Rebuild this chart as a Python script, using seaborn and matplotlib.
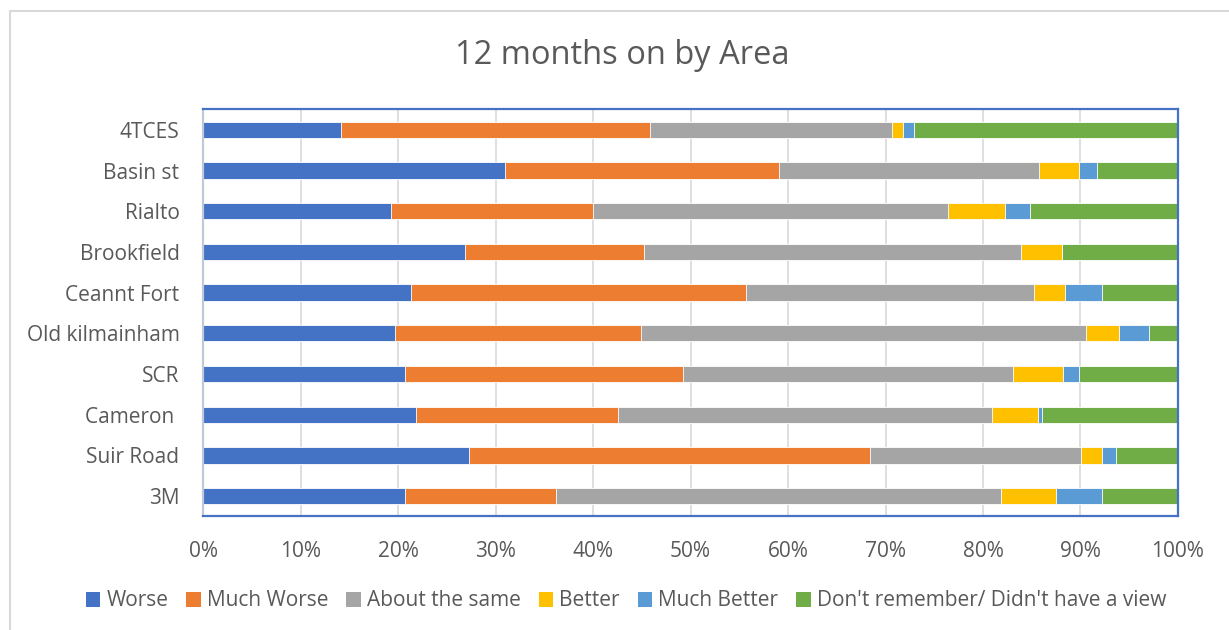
import numpy as np
import pandas as pd
import seaborn as sns
import matplotlib.pyplot as plt
from matplotlib.patches import Patch, Rectangle

# data (percent of respondents per area)
areas = ['4TCES', 'Basin st', 'Rialto', 'Brookfield', 'Ceannt Fort',
         'Old kilmainham', 'SCR', 'Cameron ', 'Suir Road', '3M']
categories = ['Worse', 'Much Worse', 'About the same', 'Better',
              'Much Better', "Don't remember/ Didn't have a view"]
worse = [14.2, 31.0, 19.3, 26.9, 21.3, 19.7, 20.7, 21.8, 27.3, 20.7]
much_worse = [31.6, 28.1, 20.7, 18.3, 34.4, 25.2, 28.5, 20.8, 41.1, 15.5]
same = [24.9, 26.6, 36.4, 38.7, 29.5, 45.7, 33.9, 38.3, 21.7, 45.6]
better = [1.1, 4.1, 5.9, 4.2, 3.2, 3.4, 5.1, 4.7, 2.1, 5.7]
much_better = [1.1, 1.9, 2.5, 0.0, 3.8, 3.0, 1.6, 0.4, 1.4, 4.7]
no_view = [27.1, 8.3, 15.2, 11.9, 7.8, 3.0, 10.2, 14.0, 6.4, 7.8]

colors = ['#4472C4', '#ED7D31', '#A5A5A5', '#FFC000', '#5B9BD5', '#70AD47']
txt = '#595959'

df = pd.DataFrame({'area': areas, 'Worse': worse, 'Much Worse': much_worse,
                   'About the same': same, 'Better': better,
                   'Much Better': much_better,
                   "Don't remember/ Didn't have a view": no_view})
vals = df[categories]
vals = vals.div(vals.sum(axis=1), axis=0) * 100
cum = vals.cumsum(axis=1)
cum['area'] = df['area']

sns.set_style('white')
plt.rcParams['font.family'] = ['Open Sans', 'DejaVu Sans']

fig = plt.figure(figsize=(12.29, 6.30), dpi=100)
ax = fig.add_axes([0.1652, 0.1802, 0.7933, 0.646])

# stacked bars: draw cumulative totals from the last series back to the first
for cat, col in reversed(list(zip(categories, colors))):
    sns.barplot(data=cum, x=cat, y='area', orient='h', color=col, width=0.4,
                edgecolor='white', linewidth=0.6, saturation=1, ax=ax)

ax.set_xlim(0, 100)
ax.set_ylim(9.5, -0.5)
ax.set_xticks(np.arange(0, 101, 10))
ax.set_xticklabels([f'{v}%' for v in range(0, 101, 10)])
ax.xaxis.grid(True, color='#D9D9D9', linewidth=1.2)
ax.set_axisbelow(True)
ax.set_xlabel('')
ax.set_ylabel('')
ax.tick_params(axis='both', length=0, labelsize=15, labelcolor=txt)
ax.tick_params(axis='x', pad=18)
ax.tick_params(axis='y', pad=17)
for s in ['top', 'right', 'bottom']:
    ax.spines[s].set_color('#4472C4')
    ax.spines[s].set_linewidth(1.6)
ax.spines['left'].set_color('#BFC9DA')
ax.spines['left'].set_linewidth(1.6)

fig.text(622 / 1229, 1 - 56 / 630, '12 months on by Area', fontsize=23.5,
         color=txt, ha='center', va='center')

handles = [Patch(facecolor=c, edgecolor='none') for c in colors]
fig.legend(handles, categories, loc='center', bbox_to_anchor=(626 / 1229, 29 / 630),
           ncol=6, frameon=False, fontsize=15, labelcolor=txt,
           handlelength=0.7, handleheight=0.7, handletextpad=0.3,
           columnspacing=0.85)

fig.patches.append(Rectangle((10 / 1229, -0.05), 1.1, 1 - 11 / 630 + 0.05,
                             transform=fig.transFigure, fill=False,
                             edgecolor='#D9D9D9', linewidth=1.5))

fig.savefig('out.png', dpi=100)
